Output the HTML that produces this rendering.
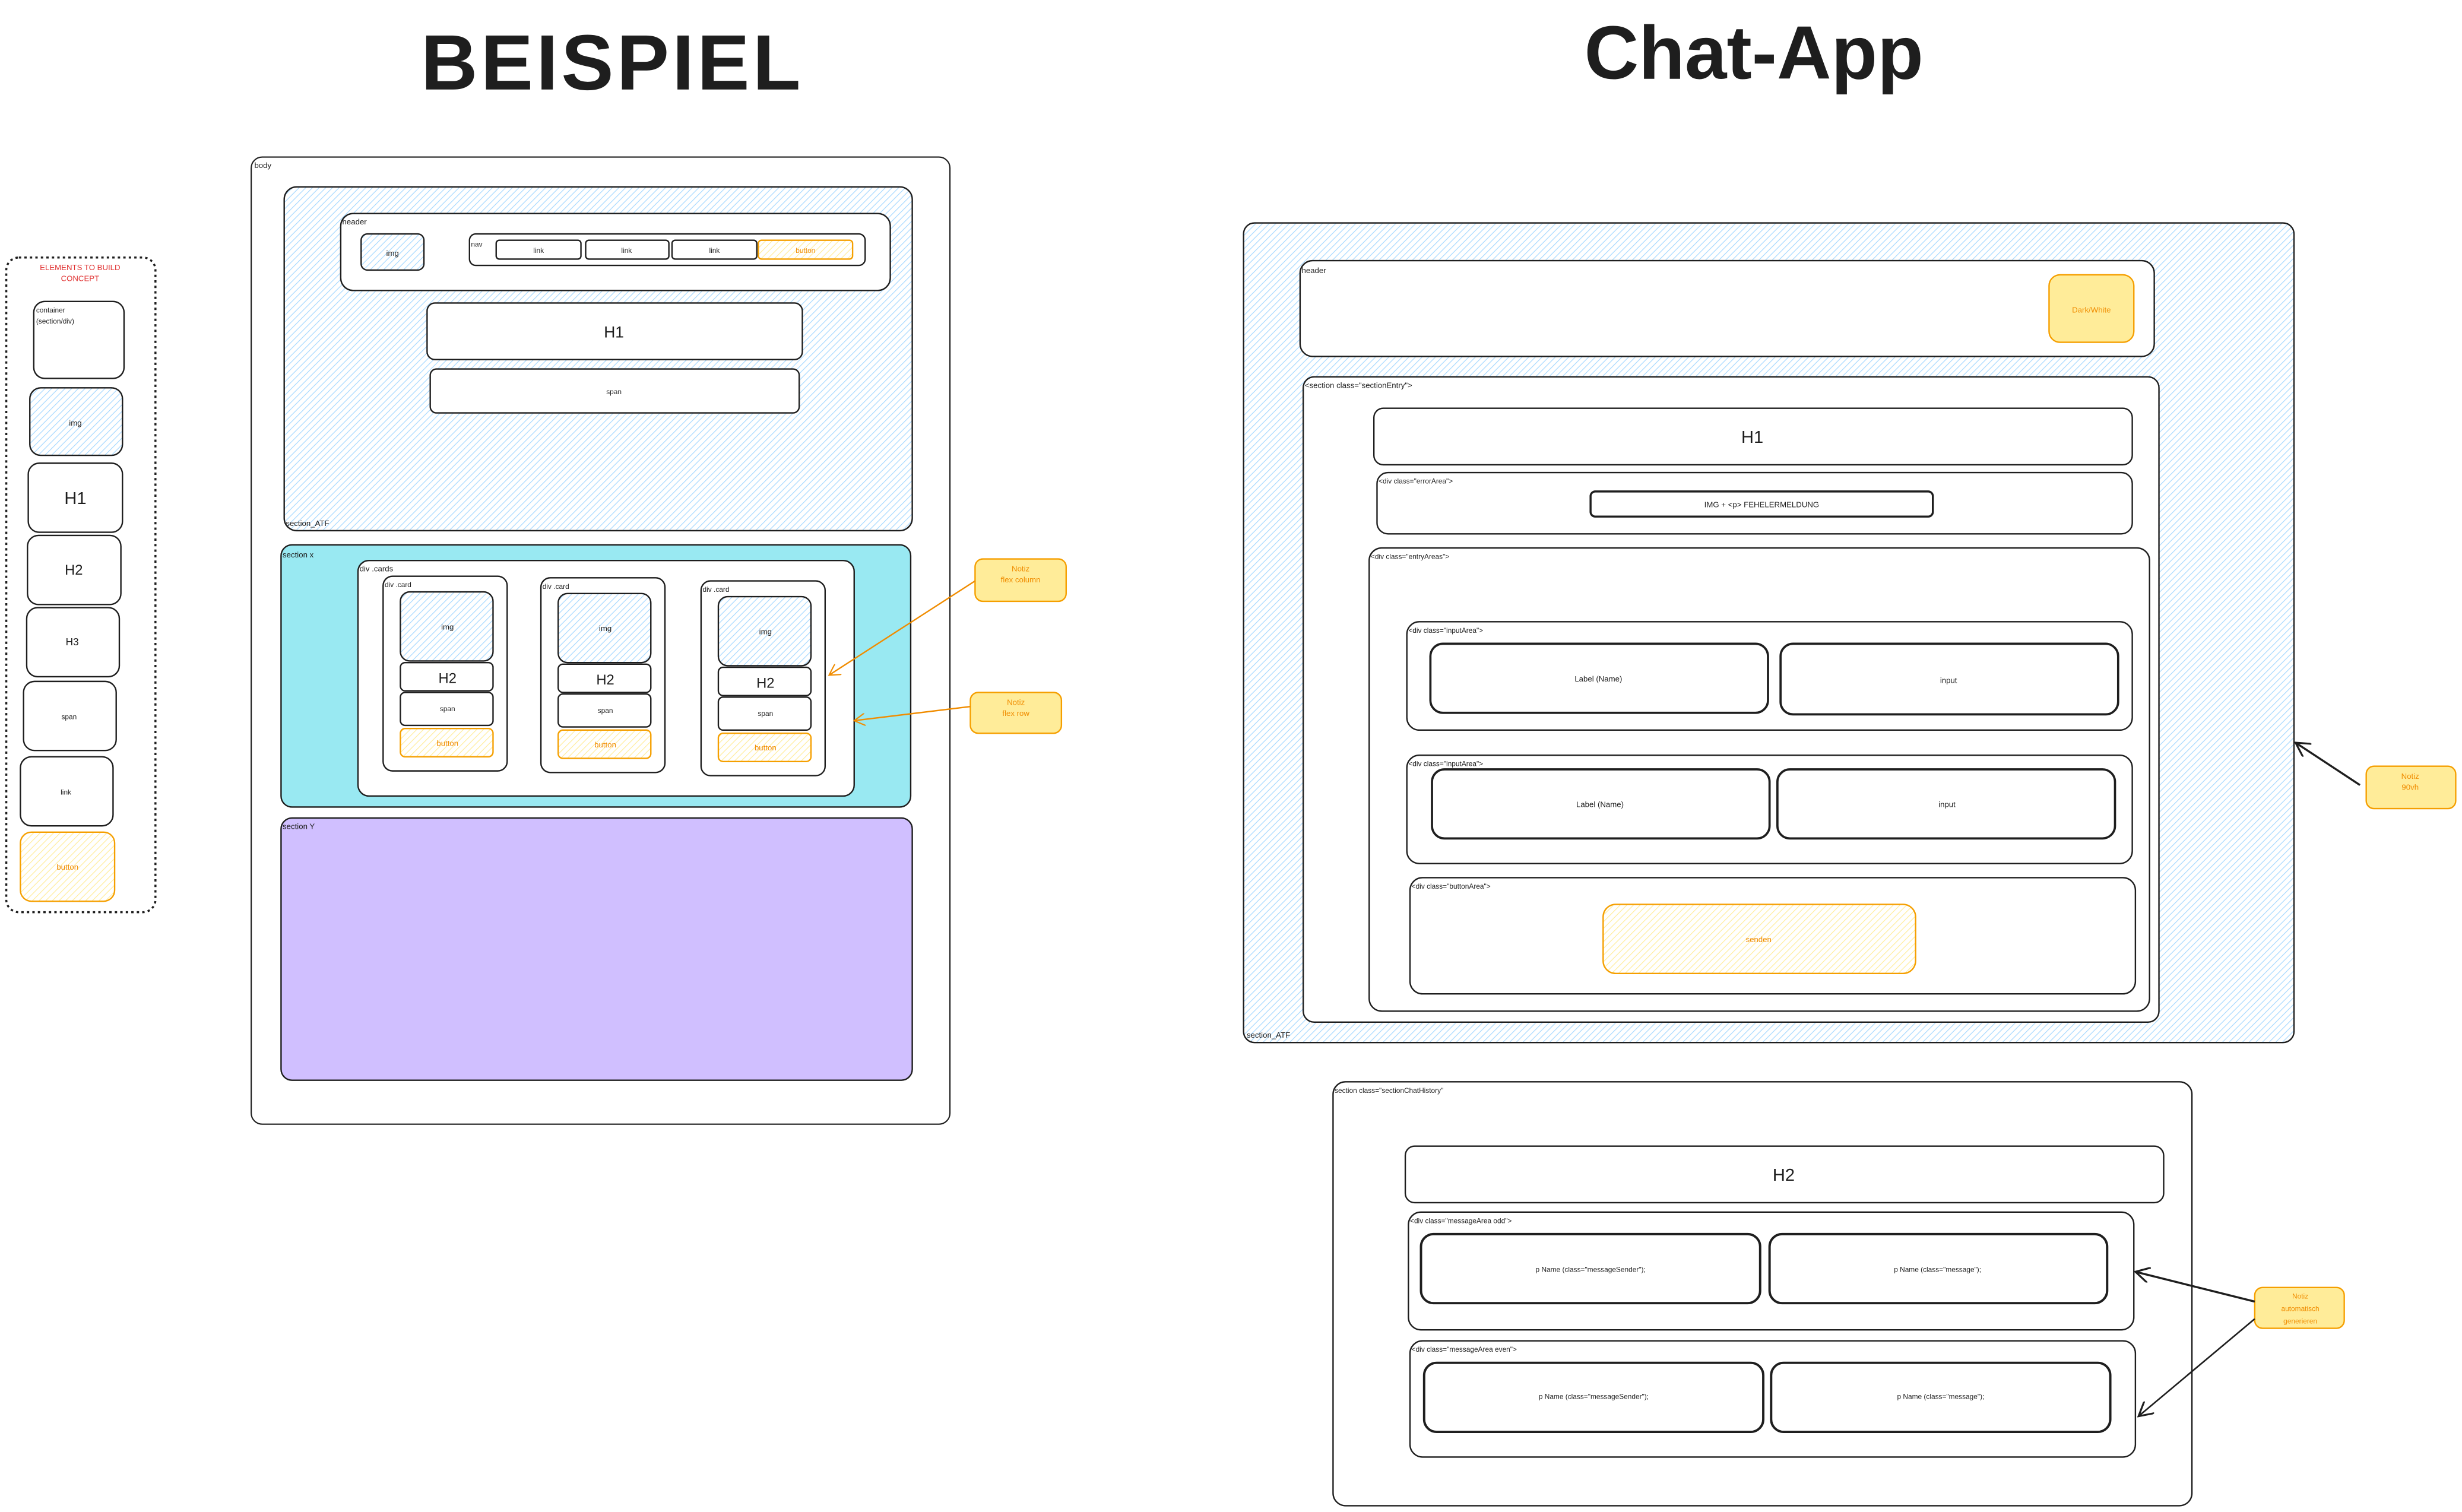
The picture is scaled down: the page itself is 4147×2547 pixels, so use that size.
<!DOCTYPE html>
<html><head><meta charset="utf-8"><style>html,body{margin:0;padding:0;background:#fff}svg{display:block}text{font-family:"Liberation Sans",sans-serif}</style></head>
<body>
<svg width="4147" height="2547" viewBox="0 0 1568 963" xmlns="http://www.w3.org/2000/svg">
<defs>
<pattern id="hb" width="3" height="3" patternUnits="userSpaceOnUse" patternTransform="rotate(45)"><rect width="3" height="3" fill="#fff"/><line x1="0" y1="0" x2="0" y2="3" stroke="#a5d8ff" stroke-width="0.9"/></pattern>
<pattern id="hy" width="3" height="3" patternUnits="userSpaceOnUse" patternTransform="rotate(45)"><rect width="3" height="3" fill="#fff"/><line x1="0" y1="0" x2="0" y2="3" stroke="#ffec99" stroke-width="0.9"/></pattern>
<marker id="ao" markerWidth="8" markerHeight="8" refX="7" refY="4" orient="auto" markerUnits="userSpaceOnUse"><path d="M0,0 L7,4 L0,8" fill="none" stroke="#f08c00" stroke-width="0.8"/></marker>
<marker id="ak" markerWidth="10" markerHeight="10" refX="9" refY="5" orient="auto" markerUnits="userSpaceOnUse"><path d="M0,0 L9,5 L0,10" fill="none" stroke="#1e1e1e" stroke-width="1.2"/></marker>
</defs>
<g fill="none" stroke="#1e1e1e" stroke-width="0.9">
<!-- titles -->
<text x="390" y="57" font-size="50" font-weight="bold" text-anchor="middle" fill="#1e1e1e" stroke="none" letter-spacing="2">BEISPIEL</text>
<text x="1117" y="50" font-size="48" font-weight="bold" text-anchor="middle" fill="#1e1e1e" stroke="none">Chat-App</text>

<!-- elements panel -->
<rect x="4" y="164" width="95" height="417" rx="8" stroke-dasharray="1.5,2" stroke-width="1.3"/>
<text x="51" y="172" font-size="5" fill="#e03131" stroke="none" text-anchor="middle">ELEMENTS TO BUILD</text>
<text x="51" y="179" font-size="5" fill="#e03131" stroke="none" text-anchor="middle">CONCEPT</text>
<rect x="21.5" y="192" width="57.5" height="49" rx="7"/>
<text x="23" y="199" font-size="4.5" fill="#1e1e1e" stroke="none">container</text>
<text x="23" y="206" font-size="4.5" fill="#1e1e1e" stroke="none">(section/div)</text>
<rect x="19" y="247" width="59" height="43" rx="7" fill="url(#hb)"/>
<text x="48" y="271" font-size="5" text-anchor="middle" fill="#1e1e1e" stroke="none">img</text>
<rect x="18" y="295" width="60" height="44" rx="7"/>
<text x="48" y="321" font-size="11" text-anchor="middle" fill="#1e1e1e" stroke="none">H1</text>
<rect x="17.5" y="341" width="59.5" height="44" rx="7"/>
<text x="47" y="366" font-size="9" text-anchor="middle" fill="#1e1e1e" stroke="none">H2</text>
<rect x="17" y="387" width="59" height="44" rx="7"/>
<text x="46" y="411" font-size="6.5" text-anchor="middle" fill="#1e1e1e" stroke="none">H3</text>
<rect x="15" y="434" width="59" height="44" rx="7"/>
<text x="44" y="458" font-size="4.5" text-anchor="middle" fill="#1e1e1e" stroke="none">span</text>
<rect x="13" y="482" width="59" height="44" rx="7"/>
<text x="42" y="506" font-size="4.5" text-anchor="middle" fill="#1e1e1e" stroke="none">link</text>
<rect x="13" y="530" width="60" height="44" rx="7" fill="url(#hy)" stroke="#f59f00"/>
<text x="43" y="554" font-size="5" text-anchor="middle" fill="#f08c00" stroke="none">button</text>

<!-- body -->
<rect x="160" y="100" width="445" height="616" rx="7" stroke-width="0.8"/>
<text x="162" y="107" font-size="5" fill="#1e1e1e" stroke="none">body</text>
<rect x="181" y="119" width="400" height="219" rx="8" fill="url(#hb)"/>
<text x="182" y="335" font-size="5" fill="#1e1e1e" stroke="none">section_ATF</text>
<rect x="217" y="136" width="350" height="49" rx="8" fill="#fff"/>
<text x="218" y="143" font-size="5" fill="#1e1e1e" stroke="none">header</text>
<rect x="230" y="149" width="40" height="23" rx="4" fill="url(#hb)"/>
<text x="250" y="163" font-size="5" text-anchor="middle" fill="#1e1e1e" stroke="none">img</text>
<rect x="299" y="149" width="252" height="20" rx="4" fill="#fff"/>
<text x="300" y="157" font-size="4.5" fill="#1e1e1e" stroke="none">nav</text>
<rect x="316" y="153" width="54" height="12" rx="2"/>
<rect x="373" y="153" width="53" height="12" rx="2"/>
<rect x="428" y="153" width="54" height="12" rx="2"/>
<rect x="483" y="153" width="60" height="12" rx="2" fill="url(#hy)" stroke="#f59f00"/>
<g font-size="4.5" text-anchor="middle" fill="#1e1e1e" stroke="none">
<text x="343" y="161">link</text><text x="399" y="161">link</text><text x="455" y="161">link</text>
<text x="513" y="161" fill="#f08c00">button</text></g>
<rect x="272" y="193" width="239" height="36" rx="5" fill="#fff"/>
<text x="391" y="215" font-size="10" text-anchor="middle" fill="#1e1e1e" stroke="none">H1</text>
<rect x="274" y="235" width="235" height="28" rx="4" fill="#fff"/>
<text x="391" y="251" font-size="4.5" text-anchor="middle" fill="#1e1e1e" stroke="none">span</text>

<rect x="179" y="347" width="401" height="167" rx="7" fill="#99e9f2"/>
<text x="180" y="355" font-size="5" fill="#1e1e1e" stroke="none">section x</text>
<rect x="228" y="357" width="316" height="150" rx="7" fill="#fff"/>
<text x="229" y="364" font-size="5" fill="#1e1e1e" stroke="none">div .cards</text>

<g id="card">
<rect x="244" y="367" width="79" height="124" rx="6"/>
<text x="245" y="374" font-size="4.5" fill="#1e1e1e" stroke="none">div .card</text>
<rect x="255" y="377" width="59" height="44" rx="6" fill="url(#hb)"/>
<text x="285" y="401" font-size="5" text-anchor="middle" fill="#1e1e1e" stroke="none">img</text>
<rect x="255" y="422" width="59" height="18" rx="3"/>
<text x="285" y="435" font-size="9" text-anchor="middle" fill="#1e1e1e" stroke="none">H2</text>
<rect x="255" y="441" width="59" height="21" rx="3"/>
<text x="285" y="453" font-size="4.5" text-anchor="middle" fill="#1e1e1e" stroke="none">span</text>
<rect x="255" y="464" width="59" height="18" rx="3" fill="url(#hy)" stroke="#f59f00"/>
<text x="285" y="475" font-size="5" text-anchor="middle" fill="#f08c00" stroke="none">button</text>
</g>
<use href="#card" transform="translate(100.5,1)"/>
<use href="#card" transform="translate(202.5,3)"/>

<rect x="179" y="521" width="402" height="167" rx="7" fill="#d0bfff"/>
<text x="180" y="528" font-size="5" fill="#1e1e1e" stroke="none">section Y</text>

<!-- notes left -->
<rect x="621" y="356" width="58" height="27" rx="5" fill="#ffec99" stroke="#f59f00"/>
<text x="650" y="364" font-size="5" text-anchor="middle" fill="#f08c00" stroke="none">Notiz</text>
<text x="650" y="371" font-size="5" text-anchor="middle" fill="#f08c00" stroke="none">flex column</text>
<rect x="618" y="441" width="58" height="26" rx="5" fill="#ffec99" stroke="#f59f00"/>
<text x="647" y="449" font-size="5" text-anchor="middle" fill="#f08c00" stroke="none">Notiz</text>
<text x="647" y="456" font-size="5" text-anchor="middle" fill="#f08c00" stroke="none">flex row</text>
<line x1="621" y1="370" x2="528" y2="430" stroke="#f08c00" marker-end="url(#ao)"/>
<line x1="618" y1="450" x2="544" y2="459" stroke="#f08c00" marker-end="url(#ao)"/>

<!-- chat app -->
<rect x="792" y="142" width="669" height="522" rx="7" fill="url(#hb)"/>
<text x="794" y="661" font-size="5" fill="#1e1e1e" stroke="none">section_ATF</text>
<rect x="828" y="166" width="544" height="61" rx="8" fill="#fff"/>
<text x="829" y="174" font-size="5" fill="#1e1e1e" stroke="none">header</text>
<rect x="1305" y="175" width="54" height="43" rx="7" fill="#ffec99" stroke="#f59f00"/>
<text x="1332" y="199" font-size="5" text-anchor="middle" fill="#f08c00" stroke="none">Dark/White</text>
<rect x="830" y="240" width="545" height="411" rx="7" fill="#fff"/>
<text x="831" y="247" font-size="5" fill="#1e1e1e" stroke="none">&lt;section class="sectionEntry"&gt;</text>
<rect x="875" y="260" width="483" height="36" rx="6"/>
<text x="1116" y="282" font-size="11" text-anchor="middle" fill="#1e1e1e" stroke="none">H1</text>
<rect x="877" y="301" width="481" height="39" rx="7"/>
<text x="878" y="308" font-size="4.5" fill="#1e1e1e" stroke="none">&lt;div class="errorArea"&gt;</text>
<rect x="1013" y="313" width="218" height="16" rx="3" stroke-width="1.3"/>
<text x="1122" y="323" font-size="5" text-anchor="middle" fill="#1e1e1e" stroke="none">IMG + &lt;p&gt; FEHELERMELDUNG</text>
<rect x="872" y="349" width="497" height="295" rx="8"/>
<text x="873" y="356" font-size="4.5" fill="#1e1e1e" stroke="none">&lt;div class="entryAreas"&gt;</text>
<rect x="896" y="396" width="462" height="69" rx="8"/>
<text x="897" y="403" font-size="4.5" fill="#1e1e1e" stroke="none">&lt;div class="inputArea"&gt;</text>
<rect x="911" y="410" width="215" height="44" rx="8" stroke-width="1.4"/>
<rect x="1134" y="410" width="215" height="45" rx="8" stroke-width="1.4"/>
<text x="1018" y="434" font-size="5" text-anchor="middle" fill="#1e1e1e" stroke="none">Label (Name)</text>
<text x="1241" y="435" font-size="5" text-anchor="middle" fill="#1e1e1e" stroke="none">input</text>
<rect x="896" y="481" width="462" height="69" rx="8"/>
<text x="897" y="488" font-size="4.5" fill="#1e1e1e" stroke="none">&lt;div class="inputArea"&gt;</text>
<rect x="912" y="490" width="215" height="44" rx="8" stroke-width="1.4"/>
<rect x="1132" y="490" width="215" height="44" rx="8" stroke-width="1.4"/>
<text x="1019" y="514" font-size="5" text-anchor="middle" fill="#1e1e1e" stroke="none">Label (Name)</text>
<text x="1240" y="514" font-size="5" text-anchor="middle" fill="#1e1e1e" stroke="none">input</text>
<rect x="898" y="559" width="462" height="74" rx="8"/>
<text x="899" y="566" font-size="4.5" fill="#1e1e1e" stroke="none">&lt;div class="buttonArea"&gt;</text>
<rect x="1021" y="576" width="199" height="44" rx="8" fill="url(#hy)" stroke="#f59f00"/>
<text x="1120" y="600" font-size="5" text-anchor="middle" fill="#f08c00" stroke="none">senden</text>

<rect x="1507" y="488" width="57" height="27" rx="5" fill="#ffec99" stroke="#f59f00"/>
<text x="1535" y="496" font-size="5" text-anchor="middle" fill="#f08c00" stroke="none">Notiz</text>
<text x="1535" y="503" font-size="5" text-anchor="middle" fill="#f08c00" stroke="none">90vh</text>
<line x1="1503" y1="500" x2="1462" y2="473" stroke-width="1.3" marker-end="url(#ak)"/>

<rect x="849" y="689" width="547" height="270" rx="8"/>
<text x="850" y="696" font-size="4.5" fill="#1e1e1e" stroke="none">section class="sectionChatHistory"</text>
<rect x="895" y="730" width="483" height="36" rx="6"/>
<text x="1136" y="752" font-size="11" text-anchor="middle" fill="#1e1e1e" stroke="none">H2</text>
<rect x="897" y="772" width="462" height="75" rx="8"/>
<text x="898" y="779" font-size="4.5" fill="#1e1e1e" stroke="none">&lt;div class="messageArea odd"&gt;</text>
<rect x="905" y="786" width="216" height="44" rx="8" stroke-width="1.5"/>
<rect x="1127" y="786" width="215" height="44" rx="8" stroke-width="1.5"/>
<text x="1013" y="810" font-size="4.5" text-anchor="middle" fill="#1e1e1e" stroke="none">p Name (class="messageSender");</text>
<text x="1234" y="810" font-size="4.5" text-anchor="middle" fill="#1e1e1e" stroke="none">p Name (class="message");</text>
<rect x="898" y="854" width="462" height="74" rx="8"/>
<text x="899" y="861" font-size="4.5" fill="#1e1e1e" stroke="none">&lt;div class="messageArea even"&gt;</text>
<rect x="907" y="868" width="216" height="44" rx="8" stroke-width="1.5"/>
<rect x="1128" y="868" width="216" height="44" rx="8" stroke-width="1.5"/>
<text x="1015" y="891" font-size="4.5" text-anchor="middle" fill="#1e1e1e" stroke="none">p Name (class="messageSender");</text>
<text x="1236" y="891" font-size="4.5" text-anchor="middle" fill="#1e1e1e" stroke="none">p Name (class="message");</text>

<rect x="1436" y="820" width="57" height="26" rx="5" fill="#ffec99" stroke="#f59f00"/>
<text x="1465" y="827" font-size="4.5" text-anchor="middle" fill="#f08c00" stroke="none">Notiz</text>
<text x="1465" y="835" font-size="4.5" text-anchor="middle" fill="#f08c00" stroke="none">automatisch</text>
<text x="1465" y="843" font-size="4.5" text-anchor="middle" fill="#f08c00" stroke="none">generieren</text>
<line x1="1436" y1="829" x2="1360" y2="810" stroke-width="1.3" marker-end="url(#ak)"/>
<line x1="1436" y1="840" x2="1362" y2="902" stroke-width="1" marker-end="url(#ak)"/>
</g>
</svg>
</body></html>
